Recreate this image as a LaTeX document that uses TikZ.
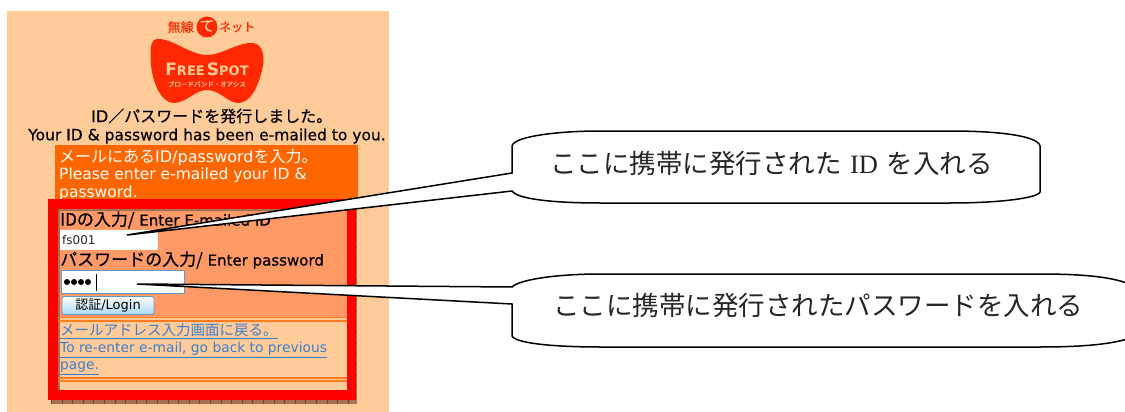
\documentclass[tikz,border=0pt]{standalone}
\usepackage{fontspec}
\setmainfont{DejaVu Sans}
\newfontfamily\latb{DejaVu Sans}[FakeBold=0.5]
\newfontfamily\jpf{Noto Sans CJK JP}
\newfontfamily\jpb{Noto Sans CJK JP}[FakeBold=0.5]
\newfontfamily\serf{Liberation Serif}
\newcommand{\J}[1]{{\jpf #1}}
\newcommand{\B}[1]{{\jpb #1}}
\newcommand{\fs}[1]{\fontsize{#1}{#1}\selectfont}
\definecolor{peach}{RGB}{255,204,153}
\definecolor{orangeband}{RGB}{255,102,0}
\definecolor{salmon}{RGB}{255,153,102}
\definecolor{logored}{RGB}{255,40,0}
\definecolor{brownb}{RGB}{170,110,85}
\definecolor{linkc}{RGB}{60,125,205}
\definecolor{ruleo}{RGB}{255,125,30}
\definecolor{steel}{RGB}{100,150,200}
\definecolor{btnlow}{RGB}{170,215,245}
\tikzset{
 txt/.style={anchor=west,inner sep=0pt,font=\latb\fs{15.5},text=black},
 whitetxt/.style={anchor=west,inner sep=0pt,font=\fs{15.5},text=white},
 linktxt/.style={anchor=west,inner sep=0pt,text=linkc},
 inputbox/.style={draw=#1,line width=.8pt,fill=white},
 callout/.style={draw=black,fill=white,line width=1.5pt,line join=miter},
 calltxt/.style={inner sep=0pt,font=\fs{26.5},text=black!85},
 rule/.style={ruleo,line width=1.2pt},
}
\begin{document}
\begin{tikzpicture}[x=1pt,y=-1pt]
\useasboundingbox (0,0) rectangle (1125,412);
\clip (0,0) rectangle (1125,412);
\fill[peach] (7,11) rectangle (389,412);
% logo
\node[inner sep=0pt,font=\fs{13},text=logored,anchor=east] (musen) at (194,27) {\B{無線}};
\fill[logored] (207,27) circle (10.5);
\node[inner sep=0pt,font=\fs{15},text=peach] (te) at (207,26) {\B{て}};
\node[inner sep=0pt,font=\fs{12},text=logored,anchor=west] (net) at (219,27) {\B{ネット}};
\fill[logored] (157,39) .. controls (172,38) and (190,55) .. (207,55)
  .. controls (222,55) and (238,42) .. (253,43)
  .. controls (264,44) and (265,60) .. (262,70)
  .. controls (258,88) and (250,103) .. (238,103)
  .. controls (228,103) and (220,90) .. (207,90)
  .. controls (195,90) and (186,103) .. (174,103)
  .. controls (162,103) and (153,85) .. (151,65)
  .. controls (150,50) and (150,40) .. (157,39) -- cycle;
\node[inner sep=0pt,font=\bfseries\fs{17},text=peach] (fs) at (207,69) {F\fs{13}REE\,\fs{17}S\fs{13}POT};
\node[inner sep=0pt,font=\fs{6.5},text=peach] (bb) at (207,84) {\B{ブロードバンド・オアシス}};
% headings
\node[txt,font=\latb\fs{16}] (head) at (91,116) {ID\B{／パスワードを発行しました。}};
\node[txt] (heade) at (28,136) {Your ID \& password has been e-mailed to you.};
% orange band
\fill[orangeband] (55,145) rectangle (358,200);
\node[whitetxt,font=\fs{16}] (o1) at (59,157) {\J{メールにある}ID/password\J{を入力。}};
\node[whitetxt] (o2) at (59,175) {Please enter e-mailed your ID \&};
\node[whitetxt] (o3) at (59,193) {password.};
% brown patterned border
\fill[brownb] (51,205) rectangle (357,404);
\draw[brownb!65!black,line width=5pt,dash pattern=on .6pt off 10pt] (51,401.5) -- (357,401.5);
\draw[brownb!65!black,line width=2pt,dash pattern=on .6pt off 10pt] (356,205) -- (356,404);
% panels
\fill[peach] (59.5,211) rectangle (347,391);
\fill[salmon] (59.5,211) rectangle (347,317);
\draw[rule] (58,317.5) -- (347,317.5);
\draw[rule] (58,321) -- (347,321);
\draw[rule] (58,378) -- (347,378);
\draw[rule] (58,381) -- (347,381);
% form
\node[txt,font=\latb\fs{15}] (l1) at (60,220) {\B{\fs{17}IDの入力/} Enter E-mailed ID};
\node[inputbox=white,minimum width=97pt,minimum height=19pt,inner sep=0pt] (in1) at (108.5,239.5) {};
\node[anchor=west,inner sep=0pt,font=\fs{12},text=black!85] (v1) at (62,240) {fs001};
\node[txt,font=\latb\fs{15}] (l2) at (60,260) {\B{\fs{17}パスワードの入力/} Enter password};
\node[inputbox=steel,minimum width=123pt,minimum height=23pt,inner sep=0pt] (in2) at (122.5,282) {};
\foreach \x in {67,74,81,88} \fill[black] (\x,282) circle (3);
\draw[black,line width=.8pt] (96,274) -- (96,291);
\node[draw=steel,line width=.8pt,rounded corners=2pt,minimum width=92pt,minimum height=18pt,inner sep=0pt,
  top color=white,bottom color=btnlow,font=\fs{13},text=black] (login) at (108,305.5) {\J{認証}/Login};
\node[linktxt,font=\fs{14.5}] (a1) at (60,331) {\underline{\J{メールアドレス入力画面に戻る。}}};
\node[linktxt,font=\fs{13.8}] (a2) at (60,350) {\underline{To re-enter e-mail, go back to previous}};
\node[linktxt,font=\fs{13.8}] (a3) at (60,368) {\underline{page.}};
% red frame
\draw[red,line width=9.5pt,line join=miter] (53,204) rectangle (351.5,395);
% callouts
\coordinate (tip1) at (127,235);
\coordinate (tip2) at (137,284);
\draw[callout] (512,173) -- (512,146) .. controls (514,136) and (560,131) .. (600,131)
  -- (950,131) .. controls (1000,131) and (1038,136) .. (1040,146)
  -- (1040,192) .. controls (1038,198) and (1000,203) .. (950,203)
  -- (600,203) .. controls (560,203) and (518,200) .. (512,191)
  -- (tip1) -- cycle;
\draw[callout] (512,287) .. controls (520,279) and (560,274) .. (600,274)
  -- (1040,274) .. controls (1090,274) and (1120,278) .. (1135,287)
  -- (1135,336) .. controls (1120,343) and (1090,347) .. (1040,347)
  -- (600,347) .. controls (560,347) and (516,344) .. (512,336)
  -- (512,304) -- (tip2) -- cycle;
\node[calltxt,anchor=west] (c1) at (550,163) {\J{ここに携帯に発行された} {\serf ID} \J{を入れる}};
\node[calltxt,anchor=west] (c2) at (553,305) {\J{ここに携帯に発行されたパスワードを入れる}};
\end{tikzpicture}
\end{document}
